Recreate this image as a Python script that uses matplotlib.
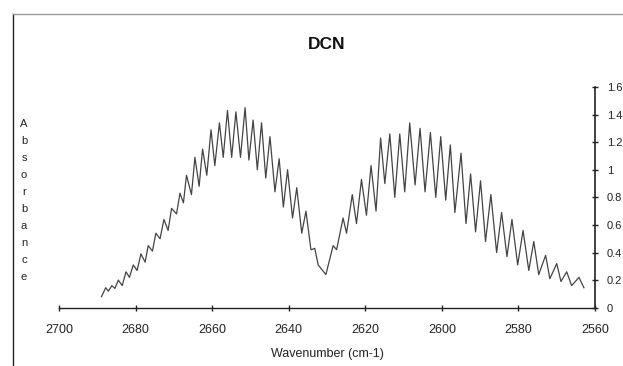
import matplotlib
matplotlib.use("Agg")
import matplotlib.pyplot as plt
from matplotlib.lines import Line2D

plt.rcParams['font.family'] = ['Liberation Sans', 'DejaVu Sans']

title = "DCN"
x_label = "Wavenumber (cm-1)"
y_label = "Absorbance"
x_ticks = [2700, 2680, 2660, 2640, 2620, 2600, 2580, 2560]
y_ticks = [0, 0.2, 0.4, 0.6, 0.8, 1.0, 1.2, 1.4, 1.6]
y_tick_labels = ["0", "0.2", "0.4", "0.6", "0.8", "1", "1.2", "1.4", "1.6"]

wavenumber = [
    2688.9, 2687.8, 2687.1, 2686.2, 2685.4, 2684.5, 2683.5, 2682.5, 2681.6, 2680.6,
    2679.6, 2678.6, 2677.5, 2676.7, 2675.6, 2674.7, 2673.6, 2672.6, 2671.5, 2670.6,
    2669.3, 2668.4, 2667.5, 2666.7, 2665.4, 2664.5, 2663.4, 2662.5, 2661.4, 2660.3,
    2659.3, 2658.1, 2657.1, 2656.0, 2654.9, 2653.8, 2652.6, 2651.4, 2650.4, 2649.3,
    2648.2, 2647.1, 2646.0, 2644.9, 2643.6, 2642.5, 2641.4, 2640.3, 2639.0, 2637.9,
    2636.6, 2635.5, 2634.2, 2633.2, 2632.3, 2630.3, 2628.4, 2627.5, 2625.8, 2624.9,
    2623.4, 2622.3, 2621.0, 2619.7, 2618.5, 2617.2, 2616.0, 2614.9, 2613.6, 2612.3,
    2611.0, 2609.7, 2608.4, 2607.0, 2605.7, 2604.4, 2603.0, 2601.6, 2600.3, 2599.0,
    2597.8, 2596.6, 2595.0, 2593.7, 2592.5, 2591.2, 2589.9, 2588.6, 2587.2, 2585.7,
    2584.4, 2583.0, 2581.7, 2580.2, 2578.8, 2577.3, 2576.0, 2574.7, 2572.9, 2571.8,
    2570.0, 2568.9, 2567.4, 2566.1, 2564.2, 2562.9,
]
absorbance = [
    0.08, 0.145, 0.12, 0.16, 0.14, 0.20, 0.16, 0.26, 0.22, 0.31,
    0.27, 0.39, 0.33, 0.45, 0.41, 0.54, 0.50, 0.64, 0.56, 0.72,
    0.68, 0.83, 0.76, 0.96, 0.82, 1.09, 0.88, 1.15, 0.96, 1.29,
    1.03, 1.34, 1.09, 1.43, 1.09, 1.42, 1.09, 1.45, 1.07, 1.36,
    1.00, 1.34, 0.94, 1.24, 0.84, 1.08, 0.73, 1.00, 0.65, 0.87,
    0.54, 0.70, 0.42, 0.43, 0.31, 0.24, 0.45, 0.42, 0.65, 0.54,
    0.82, 0.61, 0.93, 0.67, 1.03, 0.70, 1.23, 0.90, 1.26, 0.80,
    1.26, 0.84, 1.34, 0.89, 1.30, 0.84, 1.27, 0.80, 1.24, 0.78,
    1.18, 0.69, 1.12, 0.61, 0.97, 0.55, 0.92, 0.48, 0.82, 0.40,
    0.69, 0.37, 0.64, 0.31, 0.56, 0.27, 0.48, 0.24, 0.38, 0.21,
    0.32, 0.19, 0.26, 0.16, 0.22, 0.145,
]

fig = plt.figure(figsize=(6.23, 3.66), dpi=100)
fig.patch.set_facecolor("white")
ax = fig.add_axes([0.0947, 0.1593, 0.8604, 0.603])

ax.plot(wavenumber, absorbance, color="#444444", linewidth=0.9)

ax.set_xlim(2700, 2560)
ax.set_ylim(0, 1.6)
ax.set_xticks(x_ticks)
ax.set_xticklabels([str(t) for t in x_ticks])
ax.set_yticks(y_ticks)
ax.set_yticklabels(y_tick_labels)

for s in ["top", "left"]:
    ax.spines[s].set_visible(False)
ax.spines["bottom"].set_color("#222222")
ax.spines["right"].set_color("#222222")
ax.spines["bottom"].set_linewidth(1.0)
ax.spines["right"].set_linewidth(1.2)

ax.yaxis.tick_right()
ax.tick_params(axis="x", direction="inout", length=5, width=1, pad=9,
               labelsize=9, colors="#222222")
ax.tick_params(axis="y", direction="inout", length=5, width=1, pad=6,
               labelsize=8, colors="#222222")

ax.set_title(title, fontsize=12.5, fontweight="bold", pad=27, color="#111111")
ax.set_xlabel(x_label, fontsize=9, labelpad=9, color="#222222")

# vertical letter-by-letter y label
for i, ch in enumerate(y_label):
    fig.text(24 / 623, 1 - (124 + i * 17) / 366, ch, ha="center", va="center",
             fontsize=8, color="#222222")

# partial picture frame (left and top)
fig.add_artist(Line2D([13 / 623, 13 / 623], [0, 1 - 14 / 366],
                      transform=fig.transFigure, color="#222222", linewidth=1.0))
fig.add_artist(Line2D([13 / 623, 1], [1 - 14 / 366, 1 - 14 / 366],
                      transform=fig.transFigure, color="#999999", linewidth=1.0))

fig.savefig("out.png", dpi=100, facecolor="white")
